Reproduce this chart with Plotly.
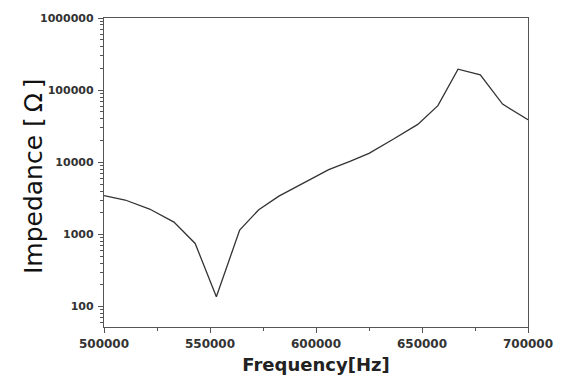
import plotly.graph_objects as go

freq = [500000, 510000, 521500, 533000, 543000, 553000, 564000, 573000, 582500,
        595000, 606000, 616000, 625000, 636000, 648000, 657500, 667000, 677500,
        688000, 700000]
impedance = [3450, 3000, 2250, 1480, 750, 137, 1150, 2200, 3400,
             5300, 7900, 10300, 13300, 20500, 33500, 61000, 195000, 163000,
             64000, 39000]

y_tickvals = [100, 1000, 10000, 100000, 1000000]
y_ticktext = ["100", "1000", "10000", "100000", "1000000"]
x_tickvals = [500000, 550000, 600000, 650000, 700000]
x_ticktext = ["500000", "550000", "600000", "650000", "700000"]

fig = go.Figure()
fig.add_trace(go.Scatter(x=freq, y=impedance, mode="lines",
                         line=dict(color="#333333", width=1.3),
                         showlegend=False))

axis_color = "#555555"
fig.update_layout(
    width=565, height=383,
    margin=dict(l=104, r=34, t=14, b=55),
    paper_bgcolor="white", plot_bgcolor="white",
    font=dict(family="DejaVu Sans", color="#222222"),
    xaxis=dict(
        range=[500000, 700000],
        tickvals=x_tickvals, ticktext=x_ticktext,
        ticks="outside", ticklen=5, tickwidth=1, tickcolor=axis_color,
        minor=dict(ticks="outside", ticklen=3, tickcolor=axis_color, dtick=25000, showgrid=False),
        showline=True, linecolor=axis_color, linewidth=1.3, mirror=True,
        showgrid=False, zeroline=False,
        tickfont=dict(family="DejaVu Sans", size=12, weight="bold", color="#333333"),
        title=dict(text="Frequency[Hz]", standoff=8,
                   font=dict(family="DejaVu Sans", size=18, weight="bold", color="#222222")),
    ),
    yaxis=dict(
        type="log", range=[1.717, 6.0],
        tickvals=y_tickvals, ticktext=y_ticktext,
        ticks="outside", ticklen=5, tickwidth=1, tickcolor=axis_color,
        minor=dict(ticks="outside", ticklen=3, tickcolor=axis_color, dtick="D1", showgrid=False),
        showline=True, linecolor=axis_color, linewidth=1.3, mirror=True,
        showgrid=False, zeroline=False,
        tickfont=dict(family="DejaVu Sans", size=11, weight="bold", color="#333333"),
        ticklabelstandoff=2,
    ),
    annotations=[dict(
        text="Impedance [\u2009Ω\u2009]", textangle=-90,
        xref="paper", yref="paper",
        x=-(104 - 33) / 427, y=0.49,
        xanchor="center", yanchor="middle", showarrow=False,
        font=dict(family="DejaVu Sans", size=25, color="#111111"),
    )],
)

fig.write_html("out.html")
